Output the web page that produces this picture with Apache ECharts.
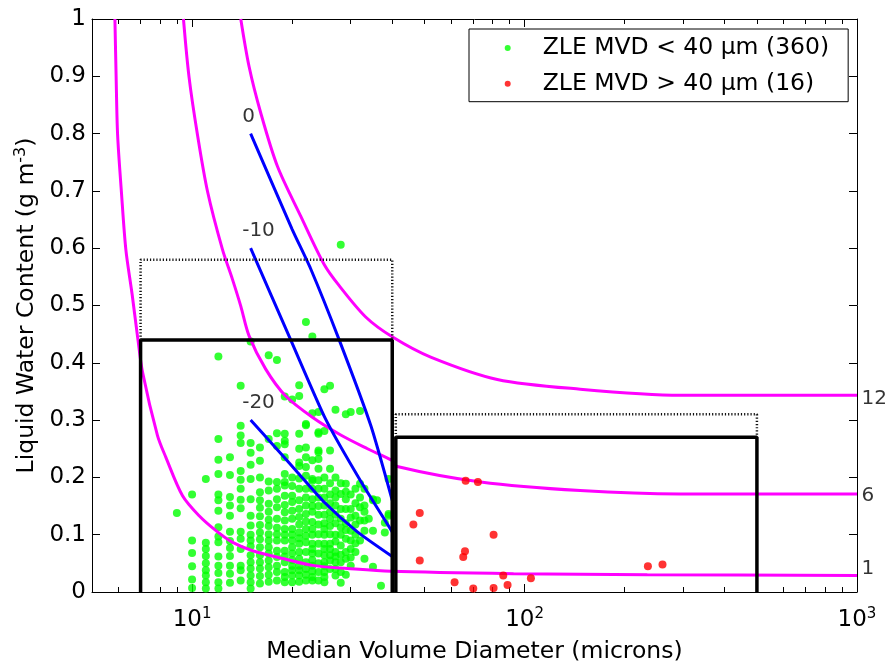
<!DOCTYPE html>
<html>
<head>
<meta charset="utf-8">
<script src="https://cdn.jsdelivr.net/npm/echarts@6/dist/echarts.min.js"></script>
<style>
html, body { margin: 0; padding: 0; background: #fff; }
#chart { width: 894px; height: 671px; }
</style>
</head>
<body>
<div id="chart"></div>
<script>
const FONT = 'DejaVu Sans';

// ZLE samples with MVD < 40 um: [MVD (um), list of LWC (g m^-3)]
const smallDropCols = [
  [9,  [0.138]],
  [10, [0.17, 0.09, 0.068, 0.045, 0.022, 0.007]],
  [11, [0.197, 0.086, 0.075, 0.063, 0.05, 0.038, 0.029, 0.017, 0.006]],
  [12, [0.411, 0.267, 0.231, 0.206, 0.17, 0.16, 0.142, 0.113, 0.097, 0.087, 0.062, 0.046, 0.033, 0.017, 0.006]],
  [13, [0.235, 0.204, 0.166, 0.151, 0.133, 0.105, 0.089, 0.077, 0.063, 0.046, 0.032, 0.016]],
  [14, [0.36, 0.29, 0.273, 0.26, 0.211, 0.196, 0.18, 0.161, 0.146, 0.105, 0.093, 0.075, 0.046, 0.038, 0.02]],
  [15, [0.437, 0.26, 0.243, 0.222, 0.197, 0.162, 0.133, 0.116, 0.1, 0.09, 0.08, 0.064, 0.052, 0.041, 0.029, 0.017, 0.006]],
  [16, [0.252, 0.229, 0.2, 0.174, 0.16, 0.147, 0.132, 0.117, 0.104, 0.092, 0.078, 0.064, 0.052, 0.041, 0.028, 0.015]],
  [17, [0.413, 0.267, 0.193, 0.177, 0.154, 0.14, 0.126, 0.115, 0.101, 0.09, 0.078, 0.067, 0.055, 0.043, 0.03, 0.018]],
  [18, [0.405, 0.277, 0.255, 0.192, 0.18, 0.162, 0.148, 0.128, 0.112, 0.101, 0.09, 0.072, 0.061, 0.046, 0.035, 0.02]],
  [19, [0.341, 0.276, 0.264, 0.258, 0.235, 0.206, 0.192, 0.186, 0.168, 0.152, 0.139, 0.125, 0.11, 0.1, 0.09, 0.072, 0.062, 0.052, 0.035, 0.026, 0.017]],
  [20, [0.336, 0.2, 0.185, 0.168, 0.157, 0.142, 0.128, 0.11, 0.1, 0.09, 0.078, 0.067, 0.056, 0.046, 0.038, 0.029, 0.017]],
  [21, [0.361, 0.342, 0.276, 0.25, 0.226, 0.22, 0.198, 0.18, 0.16, 0.145, 0.131, 0.118, 0.104, 0.094, 0.084, 0.07, 0.058, 0.046, 0.038, 0.029, 0.018]],
  [22, [0.471, 0.293, 0.291, 0.252, 0.235, 0.218, 0.203, 0.18, 0.165, 0.151, 0.136, 0.123, 0.11, 0.098, 0.087, 0.07, 0.052, 0.04, 0.03, 0.02]],
  [23, [0.446, 0.312, 0.23, 0.197, 0.194, 0.18, 0.162, 0.15, 0.14, 0.122, 0.11, 0.1, 0.084, 0.075, 0.067, 0.056, 0.046, 0.036, 0.026, 0.02]],
  [24, [0.314, 0.279, 0.276, 0.247, 0.244, 0.232, 0.215, 0.195, 0.18, 0.165, 0.15, 0.135, 0.118, 0.101, 0.084, 0.067, 0.05, 0.035, 0.02]],
  [25, [0.354, 0.281, 0.2, 0.18, 0.165, 0.151, 0.135, 0.12, 0.11, 0.1, 0.084, 0.075, 0.064, 0.052, 0.045, 0.035, 0.026, 0.017]],
  [26, [0.36, 0.247, 0.215, 0.19, 0.17, 0.155, 0.14, 0.128, 0.115, 0.101, 0.084, 0.075, 0.064, 0.055, 0.04]],
  [27, [0.318, 0.2, 0.177, 0.165, 0.151, 0.135, 0.12, 0.1, 0.088, 0.07, 0.062, 0.052, 0.04, 0.029]],
  [28, [0.606, 0.19, 0.171, 0.145, 0.128, 0.113, 0.1, 0.081, 0.065, 0.052, 0.035, 0.016]],
  [29, [0.31, 0.189, 0.175, 0.162, 0.145, 0.12, 0.108, 0.093, 0.07, 0.058, 0.03]],
  [30, [0.314, 0.17, 0.145, 0.13, 0.107, 0.09, 0.075, 0.06, 0.046]],
  [31, [0.18, 0.155, 0.133, 0.118, 0.1, 0.085, 0.07]],
  [32, [0.316, 0.189, 0.165, 0.148, 0.125, 0.09]],
  [33, [0.18, 0.151, 0.14, 0.125, 0.107, 0.058]],
  [34, [0.128]],
  [35, [0.162, 0.16, 0.107, 0.044]],
  [36, [0.16]],
  [37, [0.011]],
  [38, [0.121, 0.104]],
  [39, [0.197, 0.136, 0.133]]
];

// ZLE samples with MVD > 40 um: [MVD, LWC]
const largeDrops = [
  [66.5, 0.194], [72.4, 0.192], [48.4, 0.138], [46.3, 0.118], [80.7, 0.1],
  [48.4, 0.055], [66.2, 0.071], [65.4, 0.061], [235, 0.045], [260, 0.048],
  [86.3, 0.029], [61.6, 0.017], [70.1, 0.006], [80.7, 0.007], [88.9, 0.012],
  [104.5, 0.024]
];

// magenta reference curves (labelled 12, 6 and 1 at the right edge)
const curve12 = [[14.01, 1.0], [14.84, 0.917], [16.09, 0.836], [18.06, 0.743], [21.22, 0.656],
  [24.94, 0.572], [27.66, 0.535], [33.28, 0.48], [40.1, 0.445], [52.2, 0.41], [82.8, 0.371],
  [147, 0.354], [294, 0.3435], [1000, 0.3435]];
const curve6 = [[9.42, 1.0], [9.79, 0.899], [10.38, 0.798], [11.13, 0.699], [12.34, 0.598],
  [13.22, 0.546], [14.01, 0.499], [14.84, 0.447], [16.65, 0.389], [19.12, 0.342], [23.0, 0.305],
  [28.0, 0.274], [33.7, 0.25], [40.1, 0.229], [41.4, 0.219], [73.8, 0.192], [147, 0.177],
  [294, 0.171], [1000, 0.171]];
const curve1 = [[5.86, 1.0], [5.91, 0.898], [5.97, 0.798], [6.13, 0.698], [6.32, 0.598],
  [6.6, 0.52], [6.85, 0.447], [7.1, 0.383], [7.87, 0.273], [8.34, 0.235], [9.36, 0.168], [10.5, 0.133],
  [11.8, 0.107], [13.2, 0.087], [15.2, 0.072], [18.9, 0.058], [23.3, 0.046], [29.3, 0.041],
  [39.6, 0.036], [92.7, 0.032], [234, 0.03], [1000, 0.029]];

// blue temperature lines (0, -10, -20)
const temp0 = [[15, 0.8], [20, 0.633], [22.7, 0.565], [27.7, 0.44], [34.5, 0.29], [40, 0.16]];
const tempM10 = [[15, 0.6], [19.8, 0.44], [25.2, 0.302], [32.1, 0.194], [40, 0.105]];
const tempM20 = [[15, 0.3], [17.64, 0.255], [20.74, 0.209], [24.94, 0.157], [31.42, 0.105], [40, 0.062]];

// envelopes: solid = continuous maximum, dotted = extension
const envelopeA = [[7, 0], [7, 0.44], [40, 0.44], [40, 0]];
const envelopeAExt = [[7, 0.44], [7, 0.58], [40, 0.58], [40, 0.44]];
const envelopeB = [[41, 0], [41, 0.27], [500, 0.27], [500, 0]];
const envelopeBExt = [[41, 0.27], [41, 0.31], [500, 0.31], [500, 0.27]];

// text annotations
const tempLabels = [[14, 0.83, '0'], [14, 0.63, '-10'], [14, 0.33, '-20']];
const curveLabels = [[1000, 0.337, '12'], [1000, 0.168, '6'], [1000, 0.04, '1']];

// axis ticks
const xMajorTicks = [10, 100, 1000];
const xMinorTicks = [6, 7, 8, 9, 20, 30, 40, 50, 60, 70, 80, 90, 200, 300, 400, 500, 600, 700, 800, 900];

const smallDrops = [];
smallDropCols.forEach(([d, list]) => list.forEach(v => smallDrops.push([d, v])));

const chart = echarts.init(document.getElementById('chart'));

const black = '#000';
function xAxisBase(pos, ticks, len, withLine) {
  return {
    type: 'log', logBase: 10, min: 5, max: 1000, position: pos, gridIndex: 0,
    axisLine: { show: withLine, lineStyle: { color: black, width: 1 } },
    axisTick: { show: true, inside: true, length: len, customValues: ticks, lineStyle: { color: black, width: 1 } },
    axisLabel: { show: false },
    splitLine: { show: false }, minorTick: { show: false }
  };
}

const bottomMain = xAxisBase('bottom', xMajorTicks, 8, true);
bottomMain.axisLabel = {
  show: true, customValues: xMajorTicks, margin: 15,
  formatter: v => '{b|10}{s|' + Math.round(Math.log10(v)) + '}',
  rich: {
    b: { fontFamily: FONT, fontSize: 23, color: black, lineHeight: 26 },
    s: { fontFamily: FONT, fontSize: 15, color: black, lineHeight: 10, verticalAlign: 'top' }
  }
};
bottomMain.name = 'Median Volume Diameter (microns)';
bottomMain.nameLocation = 'middle';
bottomMain.nameGap = 46;
bottomMain.nameTextStyle = { fontFamily: FONT, fontSize: 23.5, color: black, lineHeight: 28 };

function yAxisBase(pos, withLabels) {
  const ax = {
    type: 'value', min: 0, max: 1, interval: 0.1, position: pos,
    axisLine: { show: true, lineStyle: { color: black, width: 1 } },
    axisTick: { show: true, inside: true, length: 8, lineStyle: { color: black, width: 1 } },
    axisLabel: { show: withLabels, margin: 6, fontFamily: FONT, fontSize: 23, color: black },
    splitLine: { show: false }
  };
  if (withLabels) {
    ax.name = '{b|Liquid Water Content (g m}{s|-3}{b|)}';
    ax.nameLocation = 'middle';
    ax.nameRotate = 90;
    ax.nameGap = 47;
    ax.nameTextStyle = {
      rich: {
        b: { fontFamily: FONT, fontSize: 23.5, color: black, lineHeight: 28 },
        s: { fontFamily: FONT, fontSize: 16, color: black, lineHeight: 12, verticalAlign: 'top' }
      }
    };
  }
  return ax;
}

function curveSeries(data, color, width, z, smooth) {
  return {
    type: 'line', data, symbol: 'none', smooth, z,
    lineStyle: { color, width }, silent: true
  };
}
function boxSeries(data, dotted) {
  return {
    type: 'line', data, symbol: 'none', z: 6, silent: true,
    lineStyle: dotted ? { color: '#111', width: 2.5, type: [1.2, 2] } : { color: black, width: 3.5 }
  };
}
function textSeries(items, size, dist) {
  return {
    type: 'scatter', symbolSize: 1, z: 8, silent: true, clip: false,
    itemStyle: { color: 'rgba(255,255,255,0)' },
    data: items.map(([x, y, t]) => ({ value: [x, y], name: t })),
    label: { show: true, position: 'right', distance: dist, formatter: '{b}',
      fontFamily: FONT, fontSize: size, color: black }
  };
}

chart.setOption({
  animation: false,
  backgroundColor: '#fff',
  grid: { left: 92, top: 19, width: 765, height: 574, containLabel: false },
  legend: {
    left: 469, top: 29, orient: 'vertical',
    data: ['ZLE MVD < 40 μm (360)', 'ZLE MVD > 40 μm (16)'],
    icon: 'circle', itemWidth: 6, itemHeight: 6, itemGap: 11.7,
    padding: [7, 19, 6, 35.7],
    borderColor: black, borderWidth: 1, backgroundColor: '#fff',
    formatter: name => '{g|}{t|' + name + '}',
    textStyle: {
      fontFamily: FONT, fontSize: 23.5, color: black,
      rich: { g: { width: 27 }, t: { fontFamily: FONT, fontSize: 23.5, color: black } }
    },
    selectedMode: false
  },
  xAxis: [
    bottomMain,
    xAxisBase('bottom', xMinorTicks, 5, false),
    xAxisBase('top', xMajorTicks, 8, true),
    xAxisBase('top', xMinorTicks, 5, false)
  ],
  yAxis: [yAxisBase('left', true), yAxisBase('right', false)],
  series: [
    { name: 'ZLE MVD < 40 μm (360)', type: 'scatter', data: smallDrops, symbol: 'circle',
      symbolSize: 8, itemStyle: { color: '#00ff00' }, z: 2, silent: true },
    curveSeries(curve12, '#ff00ff', 3, 3, 0.3),
    curveSeries(curve6, '#ff00ff', 3, 3, 0.3),
    curveSeries(curve1, '#ff00ff', 3, 3, 0.3),
    curveSeries(temp0, '#0000ff', 3, 4, 0.2),
    curveSeries(tempM10, '#0000ff', 3, 4, 0.2),
    curveSeries(tempM20, '#0000ff', 3, 4, 0.2),
    { name: 'ZLE MVD > 40 μm (16)', type: 'scatter', data: largeDrops, symbol: 'circle',
      symbolSize: 8, itemStyle: { color: '#ff0000' }, z: 5, silent: true },
    boxSeries(envelopeA, false),
    boxSeries(envelopeAExt, true),
    boxSeries(envelopeB, false),
    boxSeries(envelopeBExt, true),
    textSeries(tempLabels, 20, 1),
    textSeries(curveLabels, 20, 4)
  ]
});
</script>
</body>
</html>
